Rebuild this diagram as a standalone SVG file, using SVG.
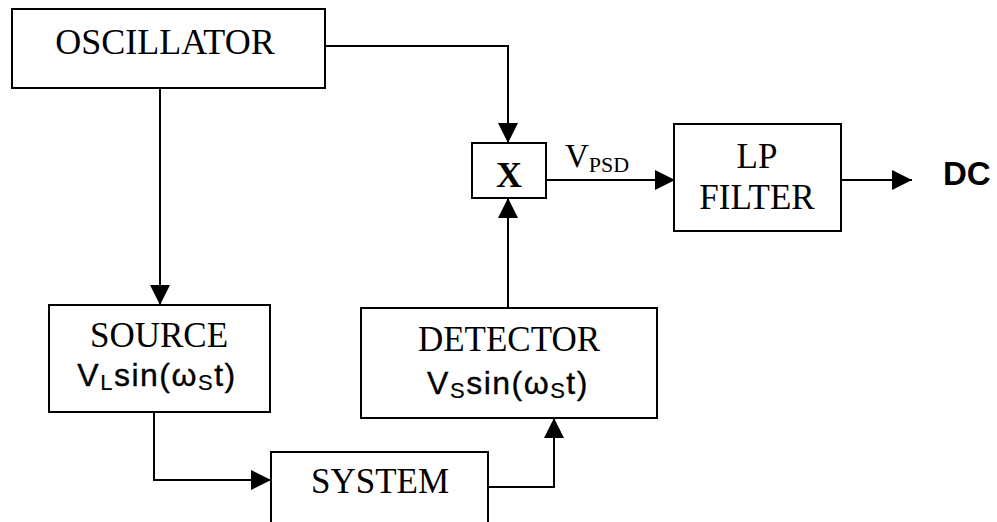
<svg xmlns="http://www.w3.org/2000/svg" width="997" height="522" viewBox="0 0 997 522">
<defs>
<marker id="arr" markerUnits="userSpaceOnUse" markerWidth="20" markerHeight="20" viewBox="0 0 20 20" refX="20" refY="10" orient="auto">
<path d="M0,0 L20,10 L0,20 Z" fill="#000"/>
</marker>
<style>
.box{fill:#fff;stroke:#000;stroke-width:2}
.t{font-family:"Liberation Serif","Times New Roman",serif;font-size:35px;fill:#000;text-anchor:middle}
.s{font-family:"Liberation Sans",Arial,sans-serif;font-size:32px;letter-spacing:1.5px;fill:#000;text-anchor:middle;stroke:#000;stroke-width:0.35px}
.sub{font-size:22px;stroke-width:0.2px}
.c{fill:none;stroke:#000;stroke-width:2}
</style>
</defs>
<rect width="997" height="522" fill="#fff"/>
<g id="connectors">
<path class="c" d="M325,46 H508 V143" marker-end="url(#arr)"/>
<path class="c" d="M160,88 V305" marker-end="url(#arr)"/>
<path class="c" d="M154,412 V480 H271" marker-end="url(#arr)"/>
<path class="c" d="M488,487 H554 V418" marker-end="url(#arr)"/>
<path class="c" d="M508,308 V198" marker-end="url(#arr)"/>
<path class="c" d="M546,180 H675" marker-end="url(#arr)"/>
<path class="c" d="M841,180 H912" marker-end="url(#arr)"/>
</g>
<g id="oscillator">
<rect class="box" x="12" y="9" width="313" height="79"/>
<text class="t" x="165" y="54" style="font-size:36px">OSCILLATOR</text>
</g>
<g id="mixer">
<rect class="box" x="472" y="143" width="74" height="55"/>
<text class="t" x="509" y="187" style="font-weight:bold;font-size:36px">X</text>
</g>
<g id="vpsd-label">
<text font-family="Liberation Serif, Times New Roman, serif" font-size="33" x="565" y="167">V<tspan font-size="22" dy="5">PSD</tspan></text>
</g>
<g id="lpfilter">
<rect class="box" x="674" y="124" width="167" height="107"/>
<text class="t" x="757" y="168">LP</text>
<text class="t" x="757" y="209">FILTER</text>
</g>
<g id="dc">
<text font-family="Liberation Sans, Arial, sans-serif" font-size="33" font-weight="bold" x="943" y="185">DC</text>
</g>
<g id="source">
<rect class="box" x="49" y="305" width="221" height="107"/>
<text class="t" x="159" y="347">SOURCE</text>
<text class="s" x="157" y="386">V<tspan class="sub" dy="4">L</tspan><tspan dy="-4">sin(ω</tspan><tspan class="sub" dy="4">S</tspan><tspan dy="-4">t)</tspan></text>
</g>
<g id="detector">
<rect class="box" x="361" y="308" width="296" height="110"/>
<text class="t" x="509" y="351">DETECTOR</text>
<text class="s" x="508" y="394">V<tspan class="sub" dy="4">S</tspan><tspan dy="-4">sin(ω</tspan><tspan class="sub" dy="4">S</tspan><tspan dy="-4">t)</tspan></text>
</g>
<g id="system">
<rect class="box" x="271" y="452" width="217" height="80"/>
<text class="t" x="380" y="493">SYSTEM</text>
</g>
</svg>
